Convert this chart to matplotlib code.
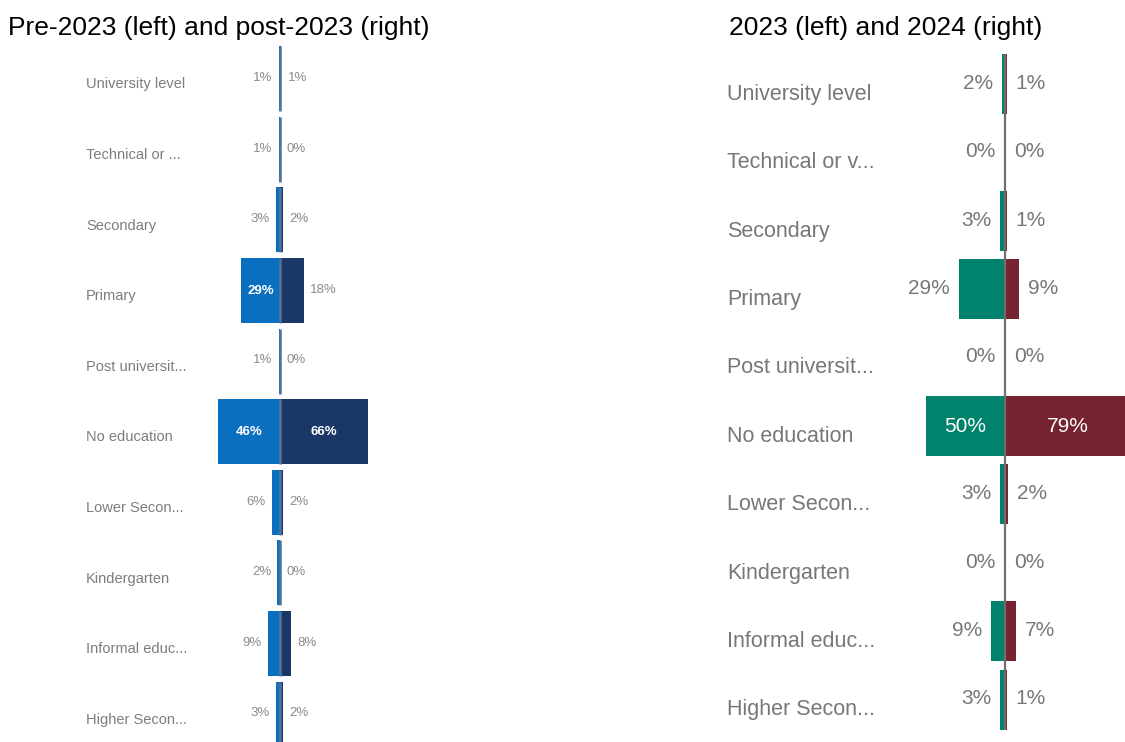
import matplotlib
matplotlib.use("Agg")
import matplotlib.pyplot as plt
import numpy as np

plt.rcParams['font.family'] = ['Liberation Sans', 'DejaVu Sans']

# ---- data ----
cats_left = ["University level", "Technical or ...", "Secondary", "Primary",
             "Post universit...", "No education", "Lower Secon...", "Kindergarten",
             "Informal educ...", "Higher Secon..."]
pre2023 = [1, 1, 3, 29, 1, 46, 6, 2, 9, 3]
post2023 = [1, 0, 2, 18, 0, 66, 2, 0, 8, 2]

cats_right = ["University level", "Technical or v...", "Secondary", "Primary",
              "Post universit...", "No education", "Lower Secon...", "Kindergarten",
              "Informal educ...", "Higher Secon..."]
y2023 = [2, 0, 3, 29, 0, 50, 3, 0, 9, 3]
y2024 = [1, 0, 1, 9, 0, 79, 2, 0, 7, 1]

title_left = "Pre-2023 (left) and post-2023 (right)"
title_right = "2023 (left) and 2024 (right)"

W, H = 1125, 742
fig = plt.figure(figsize=(W / 100, H / 100), dpi=100)
fig.patch.set_facecolor("white")


def make_ax(x0, x1, y0, y1, cx, s, yc0, dy):
    ax = fig.add_axes([x0 / W, 1 - y1 / H, (x1 - x0) / W, (y1 - y0) / H])
    ax.set_xlim((x0 - cx) / s, (x1 - cx) / s)
    ax.set_ylim((y1 - yc0) / dy, (y0 - yc0) / dy)
    ax.axis("off")
    return ax


def panel(ax, cats, left, right, c_left, c_right, height, label_xa, label_dy,
          cat_size, pct_size, cat_color, pct_color, inside_thr, pad, line_color,
          full_line, inside_weight):
    idx = np.arange(len(cats))
    lv = np.array(left, dtype=float)
    rv = np.array(right, dtype=float)
    ax.barh(idx, -lv, height=height, color=c_left, linewidth=0, zorder=2)
    ax.barh(idx, rv, height=height, color=c_right, linewidth=0, zorder=2)
    if full_line:
        ax.plot([0, 0], [idx[0] - height / 2, idx[-1] + height / 2],
                color=line_color, lw=1.6, zorder=3, solid_capstyle="butt")
    else:
        ax.vlines(np.zeros(len(idx)), idx - height / 2, idx + height / 2,
                  color=line_color, lw=1.8, zorder=3)
    for i, c in enumerate(cats):
        ax.text(label_xa, i + label_dy, c, transform=ax.get_yaxis_transform(),
                ha="left", va="center", fontsize=cat_size, color=cat_color)
        v = lv[i]
        if v >= inside_thr:
            ax.text(-v / 2, i, f"{int(v)}%", ha="center", va="center",
                    fontsize=pct_size, color="white", fontweight=inside_weight,
                    zorder=4)
        else:
            ax.annotate(f"{int(v)}%", (-v, i), xytext=(-pad, 0.5),
                        textcoords="offset points", ha="right", va="center",
                        fontsize=pct_size, color=pct_color)
        v = rv[i]
        if v >= inside_thr:
            ax.text(v / 2, i, f"{int(v)}%", ha="center", va="center",
                    fontsize=pct_size, color="white", fontweight=inside_weight,
                    zorder=4)
        else:
            ax.annotate(f"{int(v)}%", (v, i), xytext=(pad, 0.5),
                        textcoords="offset points", ha="left", va="center",
                        fontsize=pct_size, color=pct_color)


# left panel
x0, x1 = 0, 560
axL = make_ax(x0, x1, 40, 742, 280, 1.34, 78.7, 70.6)
panel(axL, cats_left, pre2023, post2023, "#0b6fc0", "#1b3768", 0.92,
      (86 - x0) / (x1 - x0), 0.08, 10.5, 9.5, "#7d7d7d", "#8a8a8a", 25, 4.5,
      "#4f7398", False, "bold")

# right panel
x0, x1 = 700, 1125
axR = make_ax(x0, x1, 40, 742, 1005, 1.58, 84, 68.4)
panel(axR, cats_right, y2023, y2024, "#00826c", "#77232f", 0.877,
      (727 - x0) / (x1 - x0), 0.15, 15.5, 15, "#777777", "#777777", 40, 6.5,
      "#6f6f6f", True, "normal")

fig.text(8 / W, 1 - 28 / H, title_left, ha="left", va="center", fontsize=19,
         color="black")
fig.text(729 / W, 1 - 28 / H, title_right, ha="left", va="center", fontsize=19,
         color="black")

fig.savefig("out.png", dpi=100)
